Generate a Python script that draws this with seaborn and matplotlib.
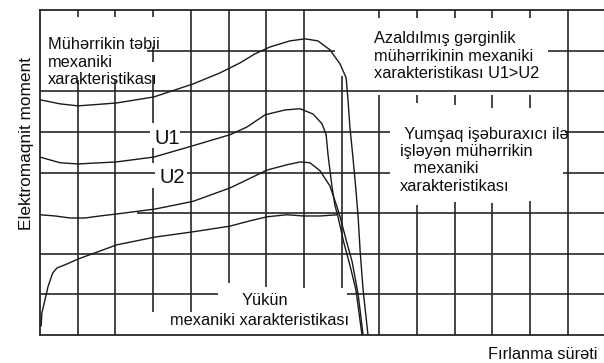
import matplotlib
matplotlib.use("Agg")
import matplotlib.pyplot as plt
import pandas as pd
import seaborn as sns

# Torque-speed characteristics, in grid units (speed: columns, torque: rows)
natural_speed = [0, 0.53, 1.01, 2.02, 3.02, 4.06, 4.77, 5.31, 5.70, 6.10, 6.63, 7.03,
                 7.37, 7.69, 7.96, 8.12, 8.17, 8.22, 8.30, 8.38, 8.44, 8.49, 8.57, 8.70]
natural_torque = [5.79, 5.69, 5.64, 5.71, 5.86, 6.18, 6.45, 6.70, 6.92, 7.09, 7.24, 7.29,
                  7.24, 7.02, 6.67, 6.33, 5.79, 5.12, 4.38, 3.57, 2.88, 2.09, 1.11, 0.0]

u1_speed = [0, 0.53, 1.01, 2.02, 3.02, 4.06, 5.04, 5.49, 5.97, 6.50, 6.90, 7.24,
            7.48, 7.59, 7.64, 7.74, 7.82, 7.90, 8.06, 8.22, 8.38, 8.54]
u1_torque = [4.38, 4.24, 4.21, 4.26, 4.38, 4.66, 4.93, 5.12, 5.42, 5.54, 5.57, 5.44,
             5.20, 4.93, 4.43, 3.69, 3.20, 2.93, 2.27, 1.72, 1.11, 0.0]

u2_speed = [0, 0.40, 0.80, 1.19, 1.59, 2.04, 3.05, 4.06, 5.04, 5.49, 6.02, 6.55,
            6.90, 7.16, 7.43, 7.69, 7.88, 7.96, 8.12, 8.28, 8.44, 8.57]
u2_torque = [2.96, 2.93, 2.88, 2.88, 2.93, 2.98, 3.10, 3.29, 3.62, 3.82, 4.06, 4.19,
             4.26, 4.24, 4.04, 3.67, 3.15, 2.91, 2.34, 1.80, 0.99, 0.0]

load_speed = [0.03, 0.05, 0.13, 0.21, 0.27, 0.34, 0.45, 0.72, 1.01, 1.51, 2.04, 3.05,
              4.06, 5.04, 5.57, 6.02, 6.55, 6.98, 7.43, 7.90]
load_torque = [0.22, 0.54, 0.86, 1.18, 1.35, 1.53, 1.65, 1.75, 1.87, 2.04, 2.22, 2.41,
               2.54, 2.68, 2.81, 2.91, 2.96, 2.93, 2.93, 2.96]

curves = pd.concat([
    pd.DataFrame({"speed": natural_speed, "torque": natural_torque, "curve": "natural"}),
    pd.DataFrame({"speed": u1_speed, "torque": u1_torque, "curve": "U1"}),
    pd.DataFrame({"speed": u2_speed, "torque": u2_torque, "curve": "U2"}),
    pd.DataFrame({"speed": load_speed, "torque": load_torque, "curve": "load"}),
], ignore_index=True)

sns.set_style("white")
plt.rcParams["font.family"] = ["Liberation Sans", "DejaVu Sans"]

fig = plt.figure(figsize=(6.04, 3.63), dpi=100)
ax = fig.add_axes([40 / 604, 28 / 363, 564 / 604, 325 / 363])
ax.set_xlim(0, 14.96)
ax.set_ylim(0, 8)

# Grid, broken where the annotations sit
grid_kw = dict(colors="#262626", linewidth=1.2, zorder=1)
row_segments = {
    7: [(2.84, 7.82), (13.47, 15.0)],
    6: [(0.0, 15.0)],
    5: [(0.0, 2.92), (3.71, 9.28), (13.93, 15.0)],
    4: [(0.0, 3.05), (3.90, 9.28), (13.87, 15.0)],
    3: [(2.57, 15.0)],
    2: [(0.0, 15.0)],
    1: [(0.0, 4.72), (8.14, 15.0)],
}
col_segments = {
    1: [(7.83, 8.0), (0.0, 6.28)],
    2: [(7.83, 8.0), (0.0, 6.28)],
    3: [(7.83, 8.0), (6.72, 7.09), (5.22, 6.40), (4.24, 4.61), (0.57, 3.62)],
    4: [(0.57, 8.0)],
    5: [(1.28, 8.0)],
    6: [(1.18, 8.0)],
    7: [(1.16, 8.0)],
    8: [(1.16, 6.38)],
    9: [(7.81, 8.0), (0.0, 5.91)],
    10: [(7.81, 8.0), (5.71, 5.91), (0.0, 3.20)],
    11: [(7.81, 8.0), (5.67, 5.91), (0.0, 3.28)],
    12: [(7.81, 8.0), (5.59, 5.91), (0.0, 3.25)],
    13: [(7.81, 8.0), (5.59, 5.91), (0.0, 3.30)],
    14: [(0.0, 8.0)],
}
for row, segs in row_segments.items():
    for x0, x1 in segs:
        ax.hlines(row, x0, x1, **grid_kw)
for col, segs in col_segments.items():
    for y0, y1 in segs:
        ax.vlines(col, y0, y1, **grid_kw)

sns.lineplot(data=curves, x="speed", y="torque", units="curve", estimator=None,
             sort=False, color="#1a1a1a", linewidth=1.0, ax=ax, zorder=3)

for side in ("top", "left", "bottom"):
    ax.spines[side].set_visible(True)
    ax.spines[side].set_color("#262626")
    ax.spines[side].set_linewidth(1.3)
ax.spines["right"].set_visible(False)
ax.set_xticks([])
ax.set_yticks([])
ax.set_xlabel("")
ax.set_ylabel("")

txt = dict(fontsize=11.8, color="#0d0d0d", va="baseline", ha="left", linespacing=1.2, zorder=4)
ax.text(0.21, 6.18, "Mühərrikin təbii\nmexaniki\nxarakteristikası", **txt)
ax.text(8.86, 6.32, "Azaldılmış gərginlik\nmühərrikinin mexaniki\nxarakteristikası U1>U2", **txt)
ax.text(9.55, 3.55, " Yumşaq işəburaxıcı ilə\nişləyən mühərrikin\n   mexaniki\nxarakteristikası", **txt)
ax.text(5.97, 0.74, "Yükün", **{**txt, "ha": "center"})
ax.text(3.45, 0.25, "mexaniki xarakteristikası", **txt)
ax.text(3.05, 4.70, "U1", **{**txt, "fontsize": 14.5})
ax.text(3.18, 3.74, "U2", **{**txt, "fontsize": 14.5})

fig.text(26.5 / 604, 1 - 143.5 / 363, "Elektromaqnit moment", rotation=90,
         ha="center", va="center", fontsize=12.4, color="#0d0d0d")
fig.text(488 / 604, 1 - 359 / 363, "Fırlanma sürəti", ha="left", va="baseline",
         fontsize=11.8, color="#0d0d0d")

fig.savefig("out.png", dpi=100)
